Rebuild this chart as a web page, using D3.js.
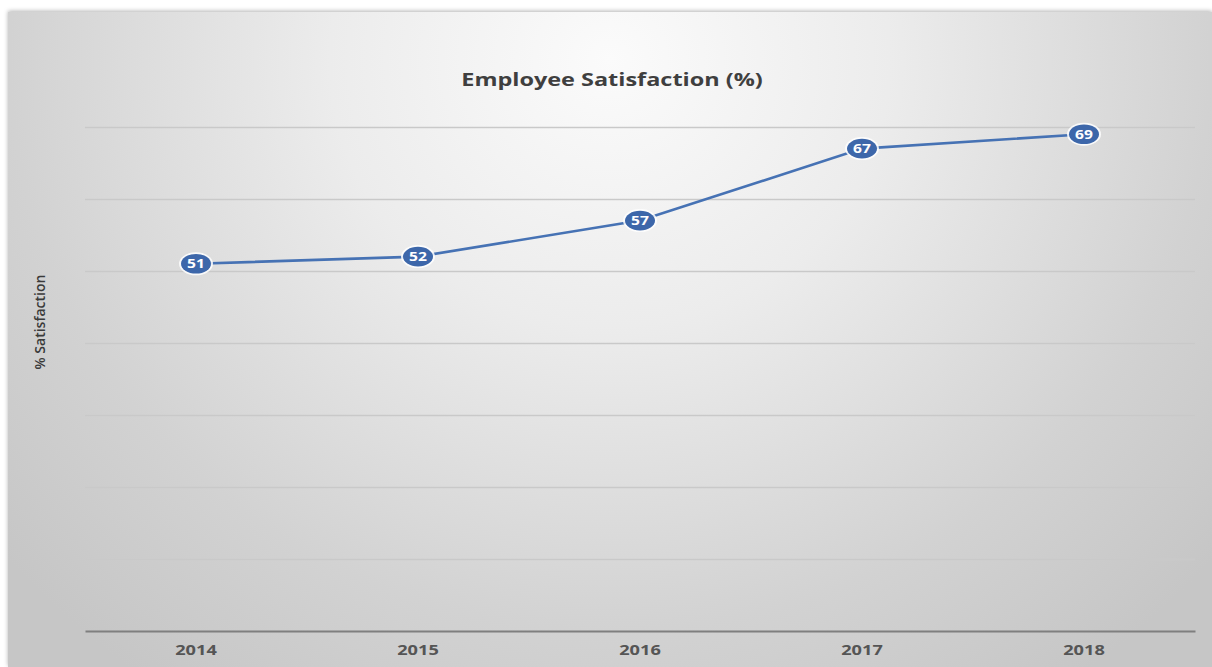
<!DOCTYPE html>
<html>
<head>
<meta charset="utf-8">
<script src="https://cdn.jsdelivr.net/npm/d3@7"></script>
<style>
  html, body { margin: 0; padding: 0; background: #ffffff; }
  svg { display: block; }
</style>
</head>
<body>
<svg id="chart" width="1212" height="667"></svg>
<script>
const years = ["2014", "2015", "2016", "2017", "2018"];
const satisfaction = [51, 52, 57, 67, 69];
const gridTicks = [10, 20, 30, 40, 50, 60, 70];
const chartTitle = "Employee Satisfaction (%)";
const yTitle = "% Satisfaction";

const W = 1212, H = 667;
const svg = d3.select("#chart");
const defs = svg.append("defs");

const grad = defs.append("radialGradient")
  .attr("id", "bg").attr("gradientUnits", "userSpaceOnUse")
  .attr("cx", 610).attr("cy", 60).attr("r", 800)
  .attr("gradientTransform", "translate(610,60) scale(1,0.95) translate(-610,-60)");
grad.append("stop").attr("offset", "0%").attr("stop-color", "#fbfbfb");
grad.append("stop").attr("offset", "35%").attr("stop-color", "#ececec");
grad.append("stop").attr("offset", "75%").attr("stop-color", "#d2d2d2");
grad.append("stop").attr("offset", "100%").attr("stop-color", "#c6c6c6");

const shadow = defs.append("filter").attr("id", "shadow")
  .attr("x", "-5%").attr("y", "-5%").attr("width", "110%").attr("height", "110%");
shadow.append("feDropShadow").attr("dx", 0).attr("dy", -1).attr("stdDeviation", 2)
  .attr("flood-color", "#000").attr("flood-opacity", 0.3);

const glow = defs.append("filter").attr("id", "glow")
  .attr("x", "-50%").attr("y", "-50%").attr("width", "200%").attr("height", "200%");
glow.append("feGaussianBlur").attr("stdDeviation", 0.6);

svg.append("rect").attr("x", 8).attr("y", 12).attr("width", W - 8).attr("height", H - 12)
  .attr("fill", "url(#bg)").attr("filter", "url(#shadow)");

const x = d3.scaleBand().domain(years).range([85, 1195]);
const y = d3.scaleLinear().domain([0, 70]).range([631, 127]);

// gridlines
svg.append("g")
  .attr("transform", "translate(85,0)")
  .call(d3.axisLeft(y).tickValues(gridTicks).tickSize(-(1195 - 85)).tickFormat(""))
  .call(g => g.select(".domain").remove())
  .call(g => g.selectAll(".tick line").attr("stroke", "#c9c9c9").attr("stroke-width", 1.3));

// x axis
svg.append("g")
  .attr("transform", "translate(0,631)")
  .call(d3.axisBottom(x).tickSize(0).tickPadding(14))
  .call(g => g.select(".domain").attr("stroke", "#7f7f7f").attr("stroke-width", 2.2))
  .call(g => g.selectAll(".tick text")
    .attr("transform", "scale(1.3,1)")
    .attr("font-family", "'Open Sans', 'DejaVu Sans', sans-serif")
    .attr("font-size", 14).attr("font-weight", "bold").attr("fill", "#555555"));

// title
svg.append("text")
  .attr("transform", "translate(612,86) scale(1.38,1)")
  .attr("text-anchor", "middle")
  .attr("font-family", "'Open Sans', 'DejaVu Sans', sans-serif")
  .attr("font-size", 17).attr("font-weight", "bold").attr("fill", "#3f3f3f")
  .text(chartTitle);

// y title
svg.append("text")
  .attr("transform", "translate(45,322) rotate(-90)")
  .attr("text-anchor", "middle")
  .attr("font-family", "'Open Sans', 'DejaVu Sans', sans-serif")
  .attr("font-size", 14).attr("font-weight", "600").attr("fill", "#3a3a3a")
  .text(yTitle);

// line
const data = years.map((yr, i) => ({ yr, v: satisfaction[i] }));
const line = d3.line().x(d => x(d.yr) + x.bandwidth() / 2).y(d => y(d.v));
svg.append("path").datum(data)
  .attr("d", line).attr("fill", "none")
  .attr("stroke", "#4672b4").attr("stroke-width", 2.6);

// markers
const pts = svg.append("g").selectAll("g").data(data).join("g")
  .attr("transform", d => `translate(${x(d.yr) + x.bandwidth() / 2},${y(d.v)})`);
pts.append("ellipse").attr("rx", 17).attr("ry", 11.5)
  .attr("fill", "#ffffff").attr("opacity", 0.85).attr("filter", "url(#glow)");
pts.append("ellipse").attr("rx", 15).attr("ry", 9.8)
  .attr("fill", "#3d67aa");
pts.append("text").attr("text-anchor", "middle").attr("dy", "0.36em")
  .attr("transform", "scale(1.2,1)")
  .attr("font-family", "'Open Sans', 'DejaVu Sans', sans-serif")
  .attr("font-size", 13).attr("font-weight", "bold").attr("fill", "#ffffff")
  .text(d => d.v);
</script>
</body>
</html>
